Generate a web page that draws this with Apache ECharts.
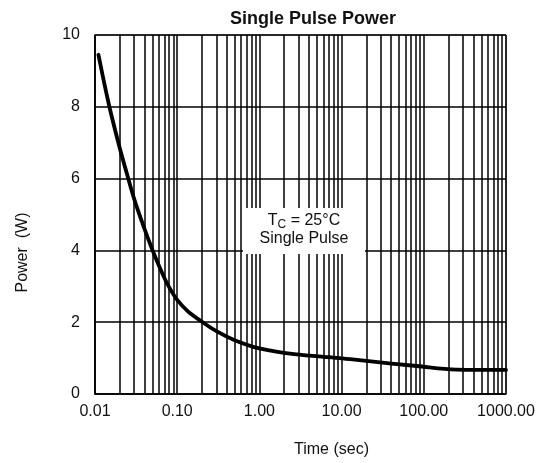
<!DOCTYPE html>
<html>
<head>
<meta charset="utf-8">
<script src="https://cdn.jsdelivr.net/npm/echarts@6/dist/echarts.min.js"></script>
<style>html,body{margin:0;padding:0;background:#fff}#c{width:543px;height:463px}</style>
</head>
<body>
<div id="c"></div>
<script>
// Time (sec) values
var timeSec = [0.011, 0.0148, 0.02, 0.0247, 0.03, 0.04, 0.05, 0.06, 0.07, 0.08, 0.1, 0.135, 0.189, 0.3, 0.5, 1, 2.64, 9.4, 20, 82, 250, 1000];
// Power (W) values
var powerW  = [9.45, 8.05, 6.85, 6.1, 5.43, 4.6, 4.01, 3.57, 3.23, 2.97, 2.62, 2.3, 2.05, 1.75, 1.5, 1.27, 1.11, 1.0, 0.92, 0.78, 0.68, 0.67];
// x tick labels (one per decade, 0.01 .. 1000)
var xTickLabels = ['0.01', '0.10', '1.00', '10.00', '100.00', '1000.00'];
// y tick labels
var yTickLabels = ['0', '2', '4', '6', '8', '10'];
// minor grid positions within each decade
var decades = [0.01, 0.1, 1, 10, 100];
var minorMultipliers = [2, 3, 4, 5, 6, 7, 8, 9];

var minorLines = [];
decades.forEach(function (d) {
  minorMultipliers.forEach(function (m) { minorLines.push({ xAxis: +(d * m).toPrecision(6) }); });
});

var font = 'Liberation Sans, Arial, sans-serif';
var chart = echarts.init(document.getElementById('c'), null, { renderer: 'canvas' });
chart.setOption({
  animation: false,
  backgroundColor: '#ffffff',
  title: {
    text: 'Single Pulse Power',
    left: 225, top: 5,
    textStyle: { fontFamily: font, fontSize: 18, fontWeight: 'bold', color: '#111' }
  },
  grid: { left: 95, right: 37, top: 35, bottom: 69, show: true, borderColor: '#444', borderWidth: 1, backgroundColor: 'transparent' },
  xAxis: {
    type: 'log', logBase: 10, min: 0.01, max: 1000,
    name: 'Time (sec)', nameLocation: 'middle', nameGap: 48,
    nameTextStyle: { fontFamily: font, fontSize: 16, color: '#111', padding: [0, 0, 0, 62] },
    axisLine: { lineStyle: { color: '#000', width: 1.5 } },
    axisTick: { show: false },
    axisLabel: {
      fontFamily: font, fontSize: 16, color: '#111', margin: 10,
      formatter: function (v) { return xTickLabels[Math.round(Math.log10(v)) + 2]; }
    },
    splitLine: { show: true, lineStyle: { color: '#000', width: 1.5 } }
  },
  yAxis: {
    type: 'value', min: 0, max: 10, interval: 2,
    name: 'Power  (W)', nameLocation: 'middle', nameGap: 64,
    nameTextStyle: { fontFamily: font, fontSize: 16, color: '#111', padding: [0, 76, 0, 0] },
    axisLine: { show: true, lineStyle: { color: '#000', width: 1.5 } },
    axisTick: { show: false },
    axisLabel: {
      fontFamily: font, fontSize: 16, color: '#111', margin: 15,
      formatter: function (v) { return yTickLabels[Math.round(v / 2)]; }
    },
    splitLine: { show: true, lineStyle: { color: '#000', width: 1.5 } }
  },
  series: [{
    type: 'line',
    data: timeSec.map(function (t, i) { return [t, powerW[i]]; }),
    smooth: 0.35,
    showSymbol: false,
    lineStyle: { color: '#000', width: 3.8, cap: 'round', join: 'round' },
    z: 5,
    markLine: {
      silent: true, symbol: 'none', animation: false,
      label: { show: false },
      lineStyle: { color: '#000', width: 1.5, type: 'solid' },
      data: minorLines,
      z: 1
    }
  }],
  graphic: [{
    type: 'rect', z: 100,
    shape: { x: 243, y: 208, width: 122, height: 46 },
    style: { fill: '#fff' }
  }, {
    type: 'text', z: 101, x: 304, y: 230,
    style: {
      text: '{t|T}{s|C}{t| = 25°C}\n{t|Single Pulse}',
      align: 'center', verticalAlign: 'middle',
      rich: {
        t: { fontFamily: font, fontSize: 16, fill: '#111', lineHeight: 18 },
        s: { fontFamily: font, fontSize: 12, fill: '#111', lineHeight: 18, padding: [7, 0, 0, 0] }
      }
    }
  }]
});
</script>
</body>
</html>
